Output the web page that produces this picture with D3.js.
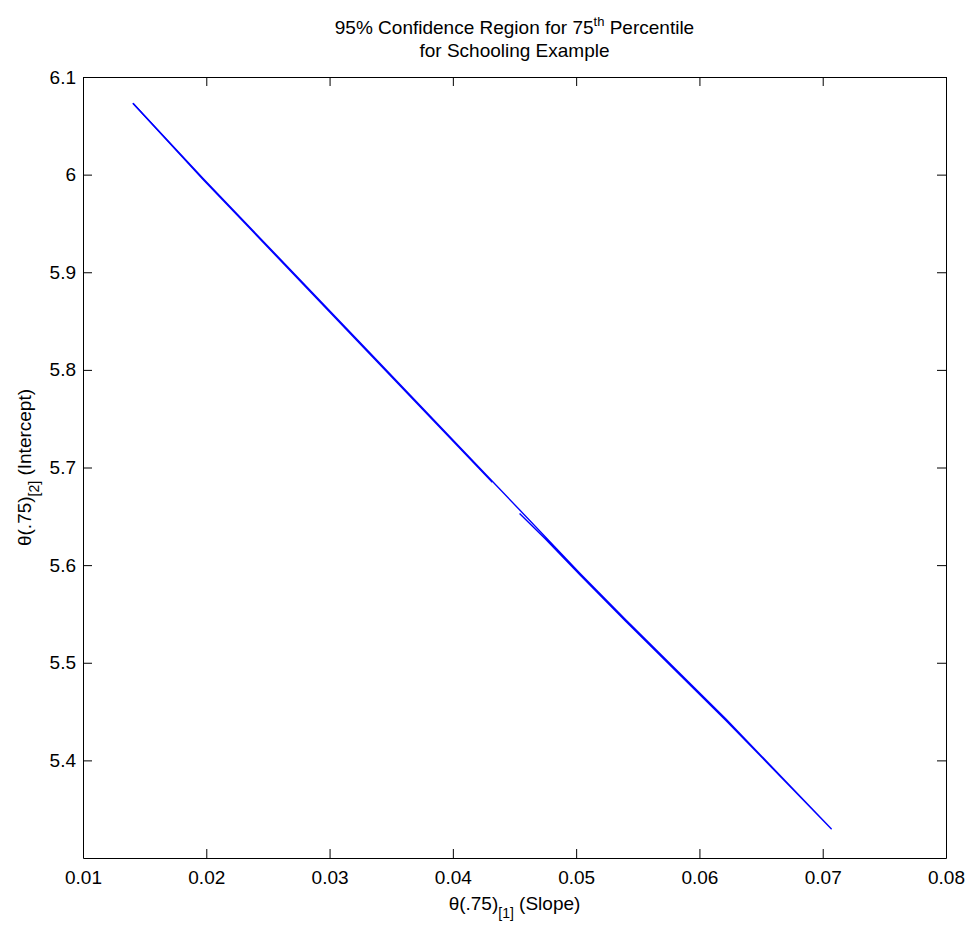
<!DOCTYPE html>
<html>
<head>
<meta charset="utf-8">
<script src="https://cdn.jsdelivr.net/npm/d3@7"></script>
<style>
  body { margin: 0; background: #fff; }
  svg text, svg tspan { font-family: "Liberation Sans", Arial, Helvetica, sans-serif; fill: #000; }
</style>
</head>
<body>
<script>
// boundary of the confidence region (slope, intercept), traced in drawing order
var regionSlope = [0.01405, 0.01978, 0.03303, 0.04231, 0.05034, 0.0540, 0.06211, 0.07069,
  0.06211, 0.0540, 0.05034, 0.04749, 0.04541]
var regionIntercept = [6.0731, 5.9956, 5.8206, 5.6978, 5.5913, 5.5442, 5.4429, 5.3300,
  5.4414, 5.5427, 5.5895, 5.6270, 5.6530]
// second strand along the upper part
var strandSlope = [0.04320, 0.03303, 0.01978, 0.01405]
var strandIntercept = [5.6848, 5.8194, 5.9945, 6.0731]

var xTicks = [0.01, 0.02, 0.03, 0.04, 0.05, 0.06, 0.07, 0.08]
var yTicks = [5.4, 5.5, 5.6, 5.7, 5.8, 5.9, 6, 6.1]

// set the dimensions and margins of the graph
var W = 969, H = 927
var margin = { top: 77, right: 23, bottom: 69, left: 83 }
var width = W - margin.left - margin.right,
  height = H - margin.top - margin.bottom

var x = d3.scaleLinear().domain([0.01, 0.08]).range([0, width])
var y = d3.scaleLinear().domain([5.3, 6.1]).range([height, 0])

var svg = d3.select('body')
  .append('svg')
  .attr('width', W)
  .attr('height', H)

var g = svg.append('g')
  .attr('transform', 'translate(' + margin.left + ',' + margin.top + ')')

function styleAxis(sel) {
  sel.selectAll('path.domain').attr('stroke', '#000').attr('stroke-width', 1)
  sel.selectAll('.tick line').attr('stroke', '#000').attr('stroke-width', 1)
  sel.selectAll('.tick text').attr('font-size', 19).attr('fill', '#000')
    .style('font-family', '"Liberation Sans", Arial, sans-serif')
}

// axes, ticks pointing inward like matlab
g.append('g')
  .attr('transform', 'translate(0,' + height + ')')
  .call(d3.axisBottom(x).tickValues(xTicks).tickFormat(d3.format('.2f'))
    .tickSizeInner(-9).tickSizeOuter(0).tickPadding(13))
  .call(styleAxis)

g.append('g')
  .call(d3.axisLeft(y).tickValues(yTicks).tickFormat(d3.format('~g'))
    .tickSizeInner(-9).tickSizeOuter(0).tickPadding(7))
  .call(styleAxis)

g.append('g')
  .call(d3.axisTop(x).tickValues(xTicks).tickFormat('')
    .tickSizeInner(-9).tickSizeOuter(0))
  .call(styleAxis)

g.append('g')
  .attr('transform', 'translate(' + width + ',0)')
  .call(d3.axisRight(y).tickValues(yTicks).tickFormat('')
    .tickSizeInner(-9).tickSizeOuter(0))
  .call(styleAxis)

// the region
var line = d3.line()
  .x(function (d) { return x(d[0]) })
  .y(function (d) { return y(d[1]) })

var paths = [
  d3.zip(regionSlope, regionIntercept),
  d3.zip(strandSlope, strandIntercept)
]

g.selectAll('.region')
  .data(paths)
  .enter()
  .append('path')
  .attr('class', 'region')
  .attr('d', line)
  .attr('fill', 'none')
  .attr('stroke', '#0000ff')
  .attr('stroke-width', 1.4)
  .attr('stroke-linejoin', 'round')

// title
var cx = margin.left + width / 2
var t1 = svg.append('text')
  .attr('x', cx)
  .attr('y', 34)
  .attr('text-anchor', 'middle')
  .attr('font-size', 19)
t1.append('tspan').text('95% Confidence Region for 75')
t1.append('tspan').attr('dy', -8).attr('font-size', 13).text('th')
t1.append('tspan').attr('dy', 8).text(' Percentile')

svg.append('text')
  .attr('x', cx)
  .attr('y', 57)
  .attr('text-anchor', 'middle')
  .attr('font-size', 19)
  .text('for Schooling Example')

// x label
var xl = svg.append('text')
  .attr('x', cx)
  .attr('y', 910)
  .attr('text-anchor', 'middle')
  .attr('font-size', 19)
xl.append('tspan').text('\u03b8(.75)')
xl.append('tspan').attr('dy', 8).attr('font-size', 14).text('[1]')
xl.append('tspan').attr('dy', -8).text(' (Slope)')

// y label
var yl = svg.append('text')
  .attr('transform', 'translate(31,' + (margin.top + height / 2) + ') rotate(-90)')
  .attr('text-anchor', 'middle')
  .attr('font-size', 19)
yl.append('tspan').text('\u03b8(.75)')
yl.append('tspan').attr('dy', 8).attr('font-size', 14).text('[2]')
yl.append('tspan').attr('dy', -8).text(' (Intercept)')
</script>
</body>
</html>
